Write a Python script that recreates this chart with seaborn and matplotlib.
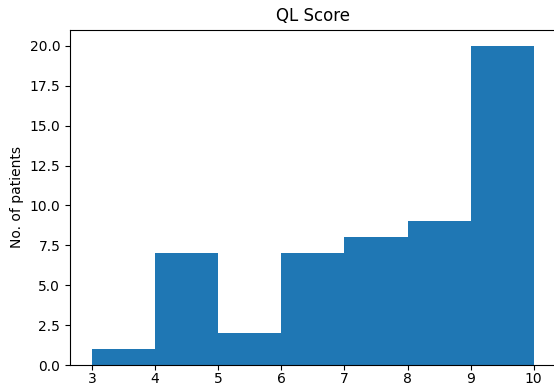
import matplotlib
matplotlib.use("Agg")
import matplotlib.pyplot as plt
import seaborn as sns

# QL score levels (left bin edge) and number of patients in each bin
score_levels = [3, 4, 5, 6, 7, 8, 9]
patients = [1, 7, 2, 7, 8, 9, 20]
bin_edges = [3, 4, 5, 6, 7, 8, 9, 10]

fig = plt.figure(figsize=(5.54, 3.87), dpi=100)
ax = fig.add_axes([70 / 554, 1 - 365.3 / 387, 485.8 / 554, 335.6 / 387])

sns.histplot(x=score_levels, weights=patients, bins=bin_edges, ax=ax,
             color="#1f77b4", alpha=1, edgecolor="none", linewidth=0)

ax.set_title("QL Score", fontsize=12)
ax.set_ylabel("No. of patients", fontsize=10)
ax.set_xlabel("")
ax.tick_params(labelsize=10)
ax.tick_params(axis="x", pad=1.5)
ax.spines["right"].set_visible(False)

fig.savefig("out.png", dpi=100)
